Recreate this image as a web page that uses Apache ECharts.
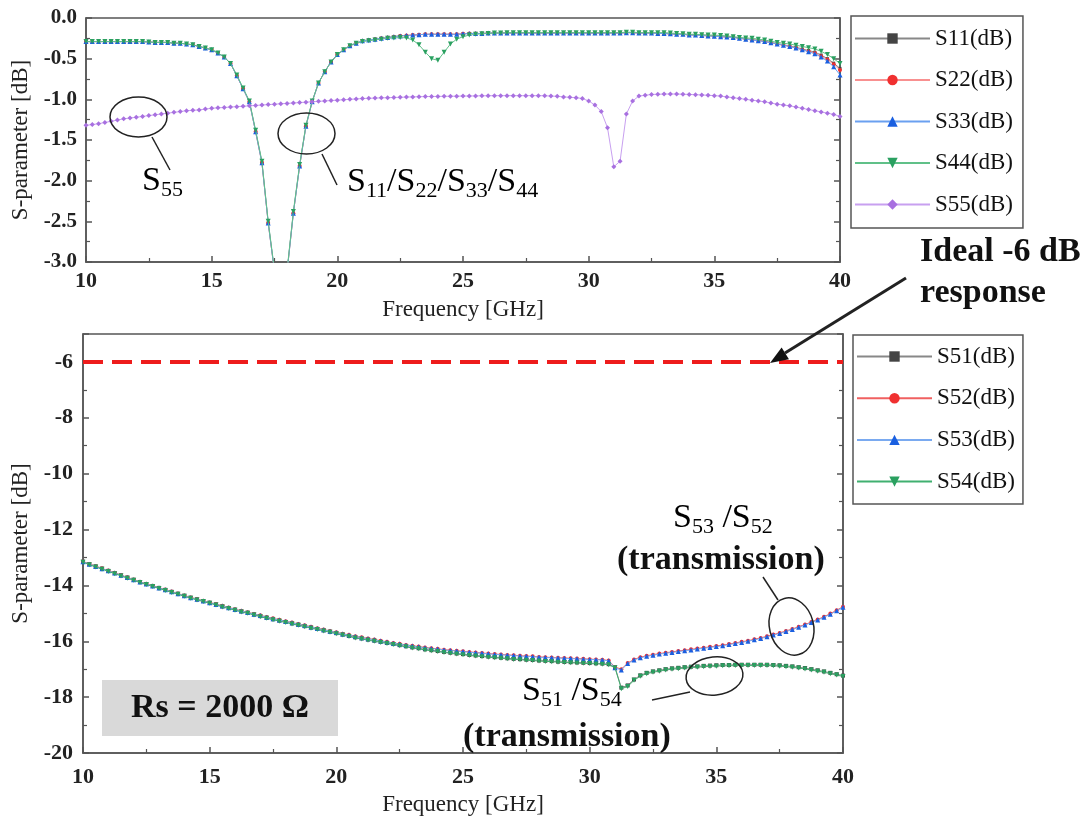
<!DOCTYPE html>
<html><head><meta charset="utf-8">
<script src="https://cdn.jsdelivr.net/npm/echarts@6/dist/echarts.min.js"></script>
<style>html,body{margin:0;padding:0;background:#fff}#c{width:1086px;height:824px}</style>
</head><body><div id="c"></div>
<script>
// Frequency grid [GHz], 0.25 GHz steps from 10 to 40 (121 points)
const freq = Array.from({length: 121}, (_, i) => 10 + i * 0.25);

// ---------- Top panel: reflection (dB) ----------
const S11 = [
-0.29,-0.29,-0.29,-0.29,-0.29,-0.29,-0.29,-0.29,-0.29,-0.29,-0.295,-0.30,-0.30,-0.30,-0.31,-0.31,-0.32,-0.33,-0.35,-0.37,
-0.39,-0.43,-0.48,-0.56,-0.71,-0.87,-1.03,-1.40,-1.78,-2.52,-3.12,-3.72,-3.12,-2.40,-1.82,-1.33,-1.03,-0.80,-0.66,-0.54,
-0.45,-0.39,-0.34,-0.31,-0.28,-0.27,-0.26,-0.25,-0.24,-0.23,-0.22,-0.215,-0.21,-0.205,-0.20,-0.20,-0.20,-0.20,-0.20,-0.20,
-0.195,-0.19,-0.19,-0.19,-0.185,-0.185,-0.185,-0.185,-0.185,-0.185,-0.185,-0.185,-0.185,-0.185,-0.185,-0.185,-0.185,-0.185,-0.185,-0.185,
-0.185,-0.185,-0.185,-0.185,-0.185,-0.185,-0.18,-0.18,-0.185,-0.185,-0.185,-0.19,-0.19,-0.195,-0.20,-0.20,-0.205,-0.21,-0.21,-0.215,
-0.22,-0.225,-0.23,-0.235,-0.245,-0.255,-0.265,-0.275,-0.285,-0.30,-0.315,-0.33,-0.345,-0.36,-0.38,-0.40,-0.42,-0.455,-0.50,-0.555,
-0.62];
const S22 = [
-0.29,-0.29,-0.29,-0.29,-0.29,-0.29,-0.29,-0.29,-0.29,-0.29,-0.295,-0.30,-0.30,-0.30,-0.31,-0.31,-0.32,-0.33,-0.35,-0.37,
-0.39,-0.43,-0.48,-0.56,-0.71,-0.87,-1.03,-1.40,-1.78,-2.52,-3.12,-3.72,-3.12,-2.40,-1.82,-1.33,-1.03,-0.80,-0.66,-0.54,
-0.45,-0.39,-0.34,-0.31,-0.28,-0.27,-0.26,-0.25,-0.24,-0.23,-0.22,-0.215,-0.21,-0.205,-0.20,-0.20,-0.20,-0.20,-0.20,-0.20,
-0.195,-0.19,-0.19,-0.19,-0.185,-0.185,-0.185,-0.185,-0.185,-0.185,-0.185,-0.185,-0.185,-0.185,-0.185,-0.185,-0.185,-0.185,-0.185,-0.185,
-0.185,-0.185,-0.185,-0.185,-0.185,-0.185,-0.18,-0.18,-0.185,-0.185,-0.185,-0.19,-0.19,-0.195,-0.20,-0.20,-0.21,-0.21,-0.215,-0.22,
-0.225,-0.23,-0.235,-0.24,-0.25,-0.26,-0.27,-0.28,-0.29,-0.305,-0.32,-0.335,-0.35,-0.37,-0.39,-0.41,-0.43,-0.47,-0.51,-0.57,
-0.64];
const S33 = [
-0.29,-0.29,-0.29,-0.29,-0.29,-0.29,-0.29,-0.29,-0.29,-0.29,-0.295,-0.30,-0.30,-0.30,-0.31,-0.31,-0.32,-0.33,-0.35,-0.37,
-0.39,-0.43,-0.48,-0.56,-0.71,-0.87,-1.03,-1.40,-1.78,-2.52,-3.12,-3.72,-3.12,-2.40,-1.82,-1.33,-1.03,-0.80,-0.66,-0.54,
-0.45,-0.39,-0.34,-0.31,-0.28,-0.27,-0.26,-0.25,-0.24,-0.23,-0.22,-0.215,-0.21,-0.205,-0.20,-0.20,-0.20,-0.20,-0.20,-0.20,
-0.195,-0.19,-0.19,-0.19,-0.185,-0.185,-0.185,-0.185,-0.185,-0.185,-0.185,-0.185,-0.185,-0.185,-0.185,-0.185,-0.185,-0.185,-0.185,-0.185,
-0.185,-0.185,-0.185,-0.185,-0.185,-0.185,-0.18,-0.18,-0.185,-0.185,-0.185,-0.19,-0.19,-0.195,-0.20,-0.20,-0.21,-0.21,-0.215,-0.22,
-0.225,-0.23,-0.235,-0.24,-0.25,-0.26,-0.27,-0.28,-0.29,-0.305,-0.32,-0.335,-0.35,-0.37,-0.39,-0.415,-0.44,-0.48,-0.53,-0.60,
-0.70];
const S44 = [
-0.29,-0.29,-0.29,-0.29,-0.29,-0.29,-0.29,-0.29,-0.29,-0.29,-0.295,-0.30,-0.30,-0.30,-0.31,-0.31,-0.32,-0.33,-0.35,-0.37,
-0.39,-0.43,-0.48,-0.56,-0.70,-0.86,-1.02,-1.38,-1.76,-2.50,-3.10,-3.70,-3.10,-2.38,-1.80,-1.32,-1.02,-0.80,-0.66,-0.54,
-0.45,-0.39,-0.34,-0.31,-0.29,-0.28,-0.27,-0.26,-0.25,-0.245,-0.24,-0.245,-0.27,-0.33,-0.42,-0.50,-0.52,-0.42,-0.32,-0.26,
-0.23,-0.21,-0.20,-0.195,-0.19,-0.185,-0.185,-0.18,-0.18,-0.18,-0.18,-0.18,-0.18,-0.18,-0.18,-0.18,-0.18,-0.18,-0.18,-0.18,
-0.18,-0.18,-0.18,-0.18,-0.18,-0.18,-0.175,-0.175,-0.18,-0.18,-0.18,-0.18,-0.18,-0.185,-0.19,-0.195,-0.20,-0.20,-0.205,-0.21,
-0.21,-0.215,-0.22,-0.23,-0.24,-0.245,-0.25,-0.26,-0.27,-0.285,-0.30,-0.31,-0.32,-0.335,-0.35,-0.365,-0.38,-0.41,-0.45,-0.50,
-0.56];
const S55 = [
-1.32,-1.31,-1.30,-1.285,-1.27,-1.255,-1.24,-1.23,-1.22,-1.21,-1.20,-1.19,-1.18,-1.17,-1.16,-1.15,-1.14,-1.135,-1.13,-1.12,
-1.11,-1.105,-1.10,-1.095,-1.09,-1.085,-1.08,-1.075,-1.07,-1.065,-1.06,-1.055,-1.05,-1.045,-1.04,-1.035,-1.03,-1.025,-1.02,-1.015,
-1.01,-1.005,-1.00,-0.995,-0.99,-0.987,-0.985,-0.982,-0.98,-0.977,-0.975,-0.972,-0.97,-0.968,-0.966,-0.965,-0.964,-0.963,-0.962,-0.961,
-0.96,-0.959,-0.958,-0.957,-0.956,-0.955,-0.955,-0.955,-0.955,-0.955,-0.955,-0.955,-0.955,-0.956,-0.96,-0.963,-0.97,-0.975,-0.98,-0.99,
-1.02,-1.07,-1.15,-1.35,-1.83,-1.76,-1.18,-1.02,-0.96,-0.95,-0.94,-0.938,-0.935,-0.935,-0.935,-0.937,-0.94,-0.943,-0.946,-0.95,
-0.955,-0.96,-0.97,-0.98,-0.99,-1.00,-1.01,-1.02,-1.03,-1.045,-1.06,-1.07,-1.08,-1.095,-1.11,-1.125,-1.14,-1.155,-1.17,-1.185,
-1.21];

// ---------- Bottom panel: transmission (dB) ----------
const S51 = [
-13.15,-13.24,-13.32,-13.40,-13.48,-13.56,-13.64,-13.72,-13.80,-13.88,-13.95,-14.02,-14.09,-14.16,-14.23,-14.30,-14.37,-14.44,-14.50,-14.56,
-14.62,-14.68,-14.75,-14.81,-14.87,-14.93,-14.98,-15.04,-15.10,-15.16,-15.21,-15.26,-15.31,-15.36,-15.41,-15.46,-15.51,-15.56,-15.61,-15.66,
-15.71,-15.76,-15.81,-15.86,-15.90,-15.94,-15.98,-16.02,-16.06,-16.10,-16.14,-16.18,-16.22,-16.25,-16.29,-16.32,-16.35,-16.38,-16.41,-16.44,
-16.46,-16.49,-16.51,-16.53,-16.55,-16.57,-16.59,-16.61,-16.63,-16.64,-16.66,-16.67,-16.69,-16.70,-16.71,-16.73,-16.74,-16.75,-16.76,-16.77,
-16.78,-16.79,-16.80,-16.82,-16.93,-17.66,-17.58,-17.37,-17.22,-17.13,-17.08,-17.04,-17.00,-16.97,-16.95,-16.93,-16.91,-16.90,-16.88,-16.87,
-16.86,-16.85,-16.85,-16.84,-16.84,-16.84,-16.84,-16.84,-16.84,-16.85,-16.86,-16.88,-16.90,-16.93,-16.96,-17.00,-17.04,-17.08,-17.13,-17.18,
-17.23];
const S52 = [
-13.14,-13.23,-13.31,-13.39,-13.47,-13.55,-13.63,-13.71,-13.79,-13.87,-13.94,-14.01,-14.08,-14.15,-14.22,-14.29,-14.36,-14.43,-14.49,-14.55,
-14.61,-14.67,-14.73,-14.79,-14.85,-14.91,-14.96,-15.02,-15.07,-15.13,-15.18,-15.23,-15.28,-15.33,-15.38,-15.43,-15.48,-15.53,-15.58,-15.63,
-15.68,-15.73,-15.77,-15.82,-15.86,-15.90,-15.94,-15.98,-16.02,-16.06,-16.09,-16.13,-16.16,-16.19,-16.22,-16.25,-16.27,-16.30,-16.32,-16.34,
-16.36,-16.38,-16.40,-16.42,-16.44,-16.46,-16.47,-16.49,-16.50,-16.52,-16.53,-16.54,-16.56,-16.57,-16.58,-16.59,-16.60,-16.61,-16.62,-16.63,
-16.64,-16.65,-16.66,-16.69,-16.92,-17.00,-16.78,-16.65,-16.57,-16.52,-16.48,-16.44,-16.41,-16.38,-16.35,-16.32,-16.29,-16.26,-16.23,-16.20,
-16.17,-16.14,-16.10,-16.06,-16.02,-15.98,-15.93,-15.88,-15.82,-15.76,-15.70,-15.63,-15.56,-15.48,-15.40,-15.31,-15.22,-15.12,-15.01,-14.89,
-14.76];
const S53 = [
-13.15,-13.24,-13.32,-13.40,-13.48,-13.56,-13.64,-13.72,-13.80,-13.88,-13.95,-14.02,-14.09,-14.16,-14.23,-14.30,-14.37,-14.44,-14.50,-14.56,
-14.62,-14.68,-14.74,-14.80,-14.86,-14.92,-14.97,-15.03,-15.08,-15.14,-15.19,-15.24,-15.29,-15.34,-15.39,-15.44,-15.49,-15.54,-15.59,-15.64,
-15.69,-15.74,-15.78,-15.83,-15.87,-15.91,-15.95,-15.99,-16.03,-16.07,-16.10,-16.14,-16.17,-16.20,-16.23,-16.26,-16.28,-16.31,-16.33,-16.35,
-16.37,-16.39,-16.41,-16.43,-16.45,-16.47,-16.48,-16.50,-16.51,-16.53,-16.54,-16.55,-16.57,-16.58,-16.59,-16.60,-16.61,-16.62,-16.63,-16.64,
-16.65,-16.66,-16.67,-16.70,-16.95,-17.03,-16.80,-16.67,-16.59,-16.54,-16.50,-16.46,-16.43,-16.40,-16.37,-16.34,-16.31,-16.28,-16.25,-16.22,
-16.19,-16.16,-16.12,-16.08,-16.04,-16.00,-15.95,-15.90,-15.84,-15.78,-15.72,-15.65,-15.58,-15.50,-15.42,-15.33,-15.24,-15.14,-15.03,-14.91,
-14.78];
const S54 = [
-13.17,-13.26,-13.34,-13.42,-13.50,-13.58,-13.66,-13.74,-13.82,-13.90,-13.97,-14.04,-14.11,-14.18,-14.25,-14.32,-14.39,-14.46,-14.52,-14.58,
-14.64,-14.70,-14.77,-14.83,-14.89,-14.95,-15.00,-15.06,-15.12,-15.18,-15.23,-15.28,-15.33,-15.38,-15.43,-15.48,-15.53,-15.58,-15.63,-15.68,
-15.73,-15.78,-15.83,-15.88,-15.92,-15.96,-16.00,-16.04,-16.08,-16.12,-16.16,-16.20,-16.24,-16.27,-16.31,-16.34,-16.37,-16.40,-16.43,-16.46,
-16.48,-16.51,-16.53,-16.55,-16.57,-16.59,-16.61,-16.63,-16.65,-16.66,-16.68,-16.69,-16.71,-16.72,-16.73,-16.75,-16.76,-16.77,-16.78,-16.79,
-16.80,-16.81,-16.82,-16.84,-16.95,-17.70,-17.62,-17.40,-17.25,-17.16,-17.11,-17.07,-17.03,-17.00,-16.98,-16.96,-16.94,-16.93,-16.91,-16.90,
-16.89,-16.88,-16.88,-16.87,-16.87,-16.87,-16.87,-16.87,-16.87,-16.88,-16.89,-16.91,-16.93,-16.96,-16.99,-17.03,-17.07,-17.11,-17.16,-17.21,
-17.26];

const idealLevel = -6;
const topNames = ['S11(dB)','S22(dB)','S33(dB)','S44(dB)','S55(dB)'];
const botNames = ['S51(dB)','S52(dB)','S53(dB)','S54(dB)'];
const freqTicks = {min: 10, max: 40, interval: 5};

const FONT = "'Liberation Serif','Times New Roman',serif";
const DOWN_TRI = 'path://M0,0L10,0L5,9Z';
const pairs = arr => arr.map((v, i) => [freq[i], v]);

function mk(name, data, gi, mark, line, symbol, size, z) {
  return {
    name, type: 'line', xAxisIndex: gi, yAxisIndex: gi * 2,
    data: pairs(data), symbol, symbolSize: size, showSymbol: true,
    lineStyle: {color: line, width: 1}, itemStyle: {color: mark},
    z: z, animation: false, clip: true, silent: true
  };
}

function xAx(gi, margin, gap) {
  return {
    type: 'value', gridIndex: gi, min: freqTicks.min, max: freqTicks.max, interval: freqTicks.interval,
    position: 'bottom',
    axisLine: {show: true, onZero: false, lineStyle: {color: '#555', width: 1.5}},
    axisTick: {show: true, inside: true, length: 6, lineStyle: {color: '#555', width: 1.5}},
    minorTick: {show: true, splitNumber: 2, length: 4, lineStyle: {color: '#555', width: 1.2}},
    splitLine: {show: false},
    axisLabel: {fontFamily: FONT, fontWeight: 'bold', fontSize: 22, color: '#222', margin: margin},
    name: 'Frequency [GHz]', nameLocation: 'middle', nameGap: gap,
    nameTextStyle: {fontFamily: FONT, fontSize: 23, color: '#222'}
  };
}
function yAx(gi, min, max, interval, fmt, gap, margin, right, fs) {
  return {
    type: 'value', gridIndex: gi, min, max, interval, position: right ? 'right' : 'left',
    axisLine: {show: true, onZero: false, lineStyle: {color: '#555', width: 1.5}},
    axisTick: {show: true, inside: true, length: 6, lineStyle: {color: '#555', width: 1.5}},
    minorTick: {show: true, splitNumber: 2, length: 4, lineStyle: {color: '#555', width: 1.2}},
    splitLine: {show: false},
    axisLabel: {show: !right, fontFamily: FONT, fontWeight: 'bold', fontSize: fs || 21, color: '#222',
      margin: margin, formatter: fmt, showMaxLabel: gi === 0},
    name: right ? '' : 'S-parameter [dB]', nameLocation: 'middle', nameGap: gap,
    nameTextStyle: {fontFamily: FONT, fontSize: 23, color: '#222'}
  };
}

const series = [
  mk(topNames[0], S11, 0, '#444', '#888', 'rect', 3, 2),
  mk(topNames[1], S22, 0, '#f03030', '#f89090', 'circle', 4, 3),
  mk(topNames[2], S33, 0, '#1a5fe0', '#6aa0f0', 'triangle', 5, 4),
  mk(topNames[3], S44, 0, '#2aa060', '#60c088', DOWN_TRI, 5, 5),
  mk(topNames[4], S55, 0, '#a870e0', '#c8a0f0', 'diamond', 5, 6),
  mk(botNames[0], S51, 1, '#444', '#888', 'rect', 4, 2),
  mk(botNames[1], S52, 1, '#f03030', '#f06060', 'circle', 4, 3),
  mk(botNames[2], S53, 1, '#1a5fe0', '#7aaaf0', 'triangle', 5, 4),
  mk(botNames[3], S54, 1, '#2aa060', '#40b070', DOWN_TRI, 5, 5)
];
series[5].markLine = {
  silent: true, symbol: 'none', label: {show: false}, animation: false,
  lineStyle: {color: '#ee1c1c', width: 4, type: [20, 9]},
  data: [{yAxis: idealLevel}]
};

const legendCommon = {
  orient: 'vertical', itemWidth: 75, itemHeight: 13,
  borderColor: '#555', borderWidth: 1.5, backgroundColor: '#fff',
  textStyle: {fontFamily: FONT, fontSize: 23, color: '#111'},
  selectedMode: false
};

const rich = {
  m: {fontFamily: FONT, fontSize: 34, lineHeight: 40, color: '#111'},
  s: {fontFamily: FONT, fontSize: 22, lineHeight: 22, verticalAlign: 'bottom', color: '#111'}
};
function sText(x, y, txt) {
  return {type: 'text', x, y, z: 100, style: {text: txt, rich, verticalAlign: 'middle', align: 'left'}};
}
function bText(x, y, txt, align) {
  return {type: 'text', x, y, z: 100, style: {text: txt, fontFamily: FONT, fontWeight: 'bold', fontSize: 34,
    fill: '#111', verticalAlign: 'middle', align: align || 'left'}};
}
function ell(cx, cy, rx, ry, rot) {
  return {type: 'ellipse', x: cx, y: cy, rotation: rot || 0, z: 100,
    shape: {cx: 0, cy: 0, rx, ry}, style: {fill: null, stroke: '#222', lineWidth: 1.5}};
}
function ln(x1, y1, x2, y2, w) {
  return {type: 'line', z: 100, shape: {x1, y1, x2, y2}, style: {stroke: '#222', lineWidth: w || 1.5}};
}

const graphic = [
  {type: 'rect', z: 90, shape: {x: 102, y: 680, width: 236, height: 56}, style: {fill: '#d9d9d9'}},
  bText(220, 708, 'Rs = 2000 Ω', 'center'),
  ell(138.5, 117, 28.5, 20), ln(152, 137, 170, 170),
  sText(142, 181, '{m|S}{s|55}'),
  ell(306.5, 133.5, 28.5, 20.5), ln(322, 154, 337, 185),
  sText(347, 182, '{m|S}{s|11}{m|/S}{s|22}{m|/S}{s|33}{m|/S}{s|44}'),
  bText(920, 252, 'Ideal -6 dB'), bText(920, 293, 'response'),
  ln(906, 278, 785, 353, 3),
  {type: 'polygon', z: 100, shape: {points: [[770, 363], [789, 359.3], [781.6, 347.5]]}, style: {fill: '#111'}},
  sText(673, 518, '{m|S}{s|53}{m| /S}{s|52}'),
  bText(617, 560, '(transmission)'),
  ell(791.5, 626.5, 22, 29, 0.25), ln(763, 577, 778, 600),
  ell(714.5, 676, 28.5, 19, 0.1), ln(652, 700, 690, 692),
  sText(522, 691, '{m|S}{s|51}{m| /S}{s|54}'),
  bText(463, 737, '(transmission)')
];

const option = {
  backgroundColor: '#fff',
  animation: false,
  grid: [
    {left: 86, top: 18, width: 754, height: 244, show: true, borderColor: '#555', borderWidth: 1.5, containLabel: false},
    {left: 83, top: 334, width: 760, height: 419, show: true, borderColor: '#555', borderWidth: 1.5, containLabel: false}
  ],
  xAxis: [xAx(0, 8, 36), xAx(1, 13, 40)],
  yAxis: [
    yAx(0, -3, 0, 0.5, v => v.toFixed(1), 53, 9, false, 21),
    yAx(0, -3, 0, 0.5, null, 0, 0, true),
    yAx(1, -20, -5, 2, v => String(v), 50, 10, false, 22),
    yAx(1, -20, -5, 2, null, 0, 0, true)
  ],
  legend: [
    Object.assign({}, legendCommon, {left: 851, top: 16, itemGap: 18.5, padding: [11, 10, 12, 3], data: topNames}),
    Object.assign({}, legendCommon, {left: 853, top: 335, itemGap: 18.7, padding: [10, 8, 11, 3], data: botNames})
  ],
  series,
  graphic
};

const chart = echarts.init(document.getElementById('c'), null, {renderer: 'canvas'});
chart.setOption(option);
</script></body></html>
